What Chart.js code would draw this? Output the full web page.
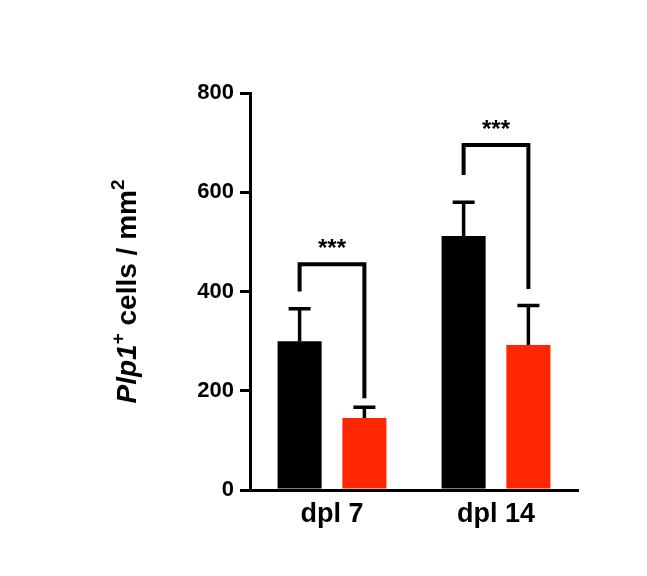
<!DOCTYPE html><html><head><script src="https://cdn.jsdelivr.net/npm/chart.js@4"></script>
<style>body{margin:0;background:#fff}</style></head><body>
<div style="width:647px;height:576px"><canvas id="c"></canvas></div>
<script>
const categories=["dpl 7","dpl 14"];
const controlValues=[300,512];
const controlErr=[65,68];
const lesionValues=[145,292];
const lesionErr=[22,80];
const bracketTop=[455,695];
const bracketLeftEnd=[400,635];
const bracketRightEnd=[185,405];
const yTicks=[0,200,400,600,800];
const F='"Liberation Sans", Arial, sans-serif';
const extras={id:'extras',afterDatasetsDraw(ch){
 const c=ch.ctx,y=ch.scales.y;
 c.save();c.strokeStyle='#000';c.lineWidth=3.5;
 ch.data.datasets.forEach((ds,di)=>{const m=ch.getDatasetMeta(di);
  m.data.forEach((b,i)=>{const top=y.getPixelForValue(ds.data[i]+ds.err[i]);
   c.beginPath();c.moveTo(b.x,b.y);c.lineTo(b.x,top);c.moveTo(b.x-11,top);c.lineTo(b.x+11,top);c.stroke();});});
 const m0=ch.getDatasetMeta(0),m1=ch.getDatasetMeta(1);
 c.fillStyle='#000';c.font='bold 24px '+F;c.textAlign='center';
 for(let i=0;i<categories.length;i++){
  const x1=m0.data[i].x,x2=m1.data[i].x,t=y.getPixelForValue(bracketTop[i]);
  c.lineWidth=4;
  c.beginPath();c.moveTo(x1,y.getPixelForValue(bracketLeftEnd[i]));c.lineTo(x1,t);c.lineTo(x2,t);c.lineTo(x2,y.getPixelForValue(bracketRightEnd[i]));c.stroke();
  c.fillText('***',(x1+x2)/2,t-8);
 }
 c.translate(136,(ch.chartArea.top+ch.chartArea.bottom)/2);c.rotate(-Math.PI/2);
 c.textAlign='left';c.textBaseline='alphabetic';
 const parts=[['italic bold 28px ','Plp1',0],['bold 19px ','+',-12],['bold 28px ',' cells / mm',0],['bold 19px ','2',-12]];
 let w=0;parts.forEach(p=>{c.font=p[0]+F;w+=c.measureText(p[1]).width;});
 let x=-w/2;parts.forEach(p=>{c.font=p[0]+F;c.fillText(p[1],x,p[2]);x+=c.measureText(p[1]).width;});
 c.restore();}};
new Chart(document.getElementById('c'),{type:'bar',
 data:{labels:categories,datasets:[
  {data:controlValues,err:controlErr,backgroundColor:'#000'},
  {data:lesionValues,err:lesionErr,backgroundColor:'#ff2600'}]},
 options:{responsive:true,maintainAspectRatio:false,animation:false,
  layout:{padding:{left:150,right:69,top:93,bottom:0}},
  plugins:{legend:{display:false},tooltip:{enabled:false}},
  datasets:{bar:{categoryPercentage:0.79,barPercentage:0.68}},
  scales:{
   x:{afterFit(s){s.height=86;},grid:{display:false,drawTicks:false},border:{color:'#000',width:3},
      ticks:{color:'#000',font:{family:F,size:27,weight:'bold'},padding:8}},
   y:{min:0,max:800,afterFit(s){s.width=100;},afterBuildTicks(s){s.ticks=yTicks.map(v=>({value:v}));},
      grid:{display:true,drawOnChartArea:false,drawTicks:true,tickLength:10,lineWidth:3,color:'#000'},
      border:{color:'#000',width:3},
      ticks:{color:'#000',font:{family:F,size:22,weight:'bold'},padding:6}}}},
 plugins:[extras]});
</script></body></html>
